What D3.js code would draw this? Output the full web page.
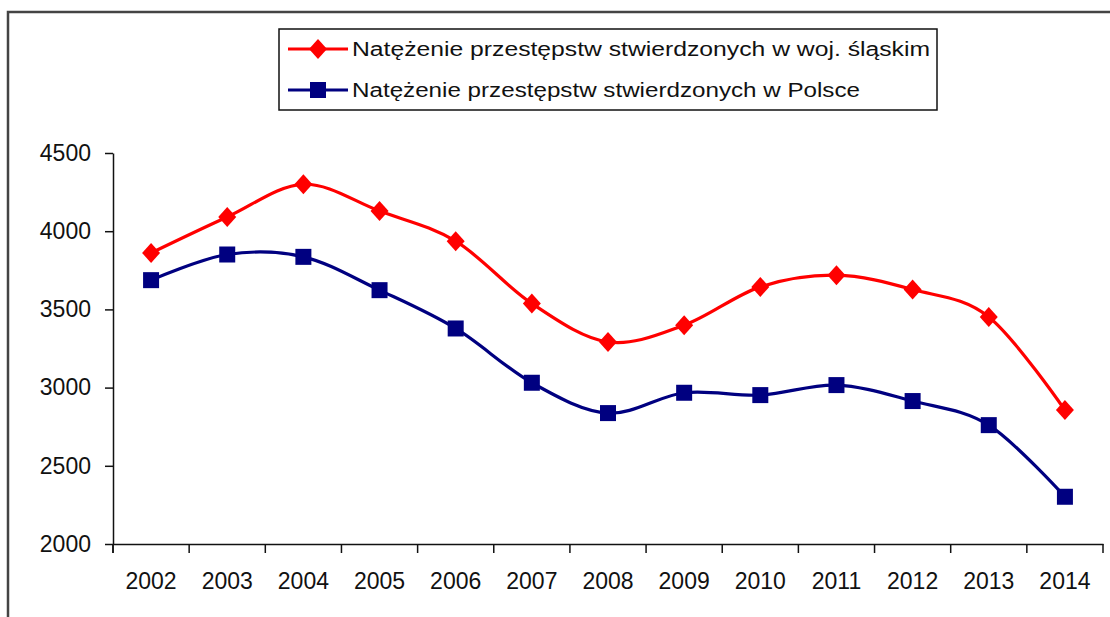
<!DOCTYPE html>
<html>
<head>
<meta charset="utf-8">
<script src="https://cdn.jsdelivr.net/npm/d3@7"></script>
<style>
  html, body { margin: 0; padding: 0; background: #fff; overflow: hidden; }
  .js-line { width: 1110px; height: 617px; }
  text { font-family: "Liberation Sans", Arial, sans-serif; fill: #111; }
</style>
</head>
<body>
<div class="js-line" id="chart"></div>
<script>
const years = [`2002`, `2003`, `2004`, `2005`, `2006`, `2007`, `2008`, `2009`, `2010`, `2011`, `2012`, `2013`, `2014`];
const slaskie = [3861, 4091, 4300, 4129, 3936, 3538, 3292, 3399, 3644, 3719, 3627, 3452, 2856];
const polska = [3687, 3851, 3836, 3623, 3378, 3031, 2837, 2967, 2952, 3016, 2914, 2760, 2302];
const yTicks = [2000, 2500, 3000, 3500, 4000, 4500];
const seriesNames = [
  `Natężenie przestępstw stwierdzonych w woj. śląskim`,
  `Natężenie przestępstw stwierdzonych w Polsce`,
];

class LineChart {
  constructor(el) {
    this.el = el;
    this.width = 1110;
    this.height = 617;
    this.plot = {left: 113, right: 1103, top: 153, bottom: 544};
    this.series = [
      {name: seriesNames[0], values: slaskie, color: `#ff0000`, marker: `diamond`},
      {name: seriesNames[1], values: polska, color: `#000080`, marker: `square`},
    ];
    this.svg = d3.select(this.el)
      .append(`svg`)
        .attr(`width`, this.width)
        .attr(`height`, this.height);
  }

  setScales() {
    this.x = d3.scaleBand()
      .domain(years)
      .range([this.plot.left, this.plot.right])
      .padding(0);

    this.y = d3.scaleLinear()
      .domain([2000, 4500])
      .range([this.plot.bottom, this.plot.top]);
  }

  cx(d) {
    return this.x(d) + this.x.bandwidth() / 2;
  }

  drawFrame() {
    // outer chart border, cut off at the right and bottom
    this.svg.append(`rect`)
      .attr(`x`, 8)
      .attr(`y`, 12)
      .attr(`width`, this.width + 20)
      .attr(`height`, this.height + 20)
      .attr(`fill`, `#fff`)
      .attr(`stroke`, `#444`)
      .attr(`stroke-width`, 2.5);
  }

  drawAxes() {
    const yAxis = this.svg.append(`g`)
      .attr(`transform`, `translate(${this.plot.left},0)`)
      .call(d3.axisLeft(this.y)
        .tickValues(yTicks)
        .tickFormat(d3.format(`d`))
        .tickSize(8)
        .tickSizeOuter(0)
        .tickPadding(14));

    yAxis.selectAll(`text`)
      .attr(`font-size`, 23)
      .attr(`font-family`, `"Liberation Sans", Arial, sans-serif`)
      .attr(`fill`, `#111`);

    const xAxis = this.svg.append(`g`)
      .attr(`transform`, `translate(0,${this.plot.bottom})`)
      .call(d3.axisBottom(this.x)
        .tickSize(0)
        .tickSizeOuter(0)
        .tickPadding(29));

    xAxis.selectAll(`text`)
      .attr(`font-size`, 23)
      .attr(`font-family`, `"Liberation Sans", Arial, sans-serif`)
      .attr(`fill`, `#111`);

    // category ticks sit on the band edges
    const edges = years.map(d => this.x(d)).concat([this.x.range()[1]]);
    xAxis.selectAll(`.edge-tick`)
      .data(edges)
      .enter().append(`line`)
        .attr(`class`, `edge-tick`)
        .attr(`x1`, d => d)
        .attr(`x2`, d => d)
        .attr(`y1`, 0)
        .attr(`y2`, 9)
        .attr(`stroke`, `#111`)
        .attr(`stroke-width`, 1.5);

    this.svg.selectAll(`.domain, .tick line`)
      .attr(`stroke`, `#111`)
      .attr(`stroke-width`, 1.5);

    // y axis continues a little below the x axis
    this.svg.append(`line`)
      .attr(`x1`, this.plot.left)
      .attr(`x2`, this.plot.left)
      .attr(`y1`, this.plot.bottom)
      .attr(`y2`, this.plot.bottom + 9)
      .attr(`stroke`, `#111`)
      .attr(`stroke-width`, 1.5);
  }

  drawMarker(g, type, color) {
    if (type === `diamond`) {
      g.append(`path`)
        .attr(`d`, `M0,-10L9,0L0,10L-9,0Z`)
        .attr(`fill`, color);
    } else {
      g.append(`rect`)
        .attr(`x`, -8)
        .attr(`y`, -8)
        .attr(`width`, 16)
        .attr(`height`, 16)
        .attr(`fill`, color);
    }
  }

  drawSeries() {
    const line = d3.line()
      .x(d => this.cx(d.year))
      .y(d => this.y(d.value))
      .curve(d3.curveCatmullRom.alpha(0));

    this.series.forEach(s => {
      const points = years.map((year, i) => ({year, value: s.values[i]}));

      this.svg.append(`path`)
        .datum(points)
        .attr(`d`, line)
        .attr(`fill`, `none`)
        .attr(`stroke`, s.color)
        .attr(`stroke-width`, 3.2);

      points.forEach(p => {
        const g = this.svg.append(`g`)
          .attr(`transform`, `translate(${this.cx(p.year)},${this.y(p.value)})`);
        this.drawMarker(g, s.marker, s.color);
      });
    });
  }

  drawLegend() {
    const legend = this.svg.append(`g`);
    const textWidths = [578, 508];
    const rows = [49, 90];

    legend.append(`rect`)
      .attr(`x`, 279)
      .attr(`y`, 29)
      .attr(`width`, 658)
      .attr(`height`, 81)
      .attr(`fill`, `#fff`)
      .attr(`stroke`, `#111`)
      .attr(`stroke-width`, 1.5);

    this.series.forEach((s, i) => {
      const row = legend.append(`g`)
        .attr(`transform`, `translate(0,${rows[i]})`);

      row.append(`line`)
        .attr(`x1`, 288)
        .attr(`x2`, 348)
        .attr(`stroke`, s.color)
        .attr(`stroke-width`, 3.2);

      const g = row.append(`g`).attr(`transform`, `translate(318,0)`);
      this.drawMarker(g, s.marker, s.color);

      row.append(`text`)
        .attr(`x`, 352)
        .attr(`y`, 7)
        .attr(`font-size`, 20)
        .attr(`textLength`, textWidths[i])
        .attr(`lengthAdjust`, `spacingAndGlyphs`)
        .text(s.name);
    });
  }

  render() {
    this.setScales();
    this.drawFrame();
    this.drawAxes();
    this.drawSeries();
    this.drawLegend();
  }
}

new LineChart(`#chart`).render();
</script>
</body>
</html>
